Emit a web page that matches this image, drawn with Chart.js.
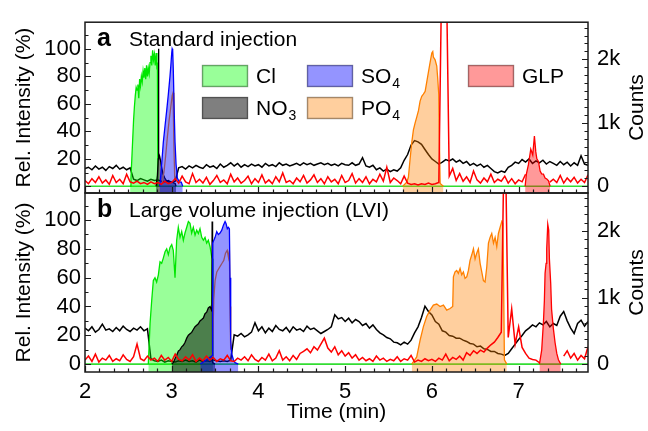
<!DOCTYPE html>
<html><head><meta charset="utf-8">
<script src="https://cdn.jsdelivr.net/npm/chart.js@4.4.1/dist/chart.umd.min.js"></script>
<style>
html,body{margin:0;padding:0;background:#fff;}
#wrap{position:relative;width:648px;height:431px;background:#fff;}
canvas{position:absolute;left:0;top:0;}
</style></head><body>
<div id="wrap"><canvas id="ca" width="648" height="431"></canvas><canvas id="cb" width="648" height="431"></canvas></div>
<script>
// ---------- DATA ----------
// sampling grid of the count traces (min)
const countTimes = Array.from({length: 146}, (_, i) => Math.round(200 + i * 4) / 100);

// panel a (standard injection) – counts
const blackCountsA = [
 280,300,260,320,270,300,250,310,280,330,
 270,300,260,290,110,90,120,100,80,110,
 90,100,80,70,90,60,80,290,310,270,
 320,290,330,300,280,340,300,320,280,350,
 300,330,370,320,360,300,340,310,350,320,
 340,300,360,320,340,310,370,330,350,320,
 340,360,330,370,340,360,330,350,370,340,
 360,330,350,320,360,340,330,370,330,350,
 450,320,300,330,260,290,240,270,230,260,
 240,290,410,500,650,720,700,660,580,500,
 430,390,350,380,420,400,430,380,410,360,
 390,330,360,320,350,300,330,280,230,210,
 240,220,300,330,380,360,420,380,430,360,
 400,370,410,350,390,360,330,390,340,380,
 320,370,330,480,350,330];
const redCountsA = [
 90,40,120,60,150,50,100,30,170,60,
 110,40,190,70,50,80,40,60,30,70,
 40,60,30,80,40,60,120,50,160,70,
 40,200,60,110,50,140,30,90,170,60,
 100,40,190,70,130,50,90,160,40,120,
 60,180,50,100,40,150,70,210,60,90,
 40,130,70,170,50,100,180,60,120,40,
 150,70,110,40,170,60,90,200,50,120,
 60,150,40,110,70,190,80,300,60,130,
 90,40,160,50,30,40,20,40,30,50,
 30,40,60,4000,4000,160,280,90,200,80,
 150,60,240,100,50,130,70,190,60,110,
 80,160,50,120,40,100,70,190,null,null,
 null,null,null,null,65,110,60,170,50,130,
 70,140,50,110,60,180];

// panel a – relative intensities (%)
const clTimesA = [2.52,2.53,2.54,2.55,2.56,2.57,2.58,2.59,2.60,2.61,2.62,2.63,2.64,2.65,2.66,2.67,2.68,2.69,2.70,2.71,2.72,2.73,2.74,2.75,2.76,2.77,2.78,2.79,2.80,2.81,2.82,2.83,2.835,2.84];
const clA = [0,6,20,34,48,58,66,72,70,74,64,78,73,80,76,84,79,86,78,88,80,86,82,90,95,88,99,92,96,88,97,85,90,0];
const no3TimesA = [2.82,2.835,2.845,2.848,2.851,2.86,2.87,2.88,2.89,2.90,2.92,2.94,2.97,3.0,3.04,3.05];
const no3A = [0,8,20,100,24,22,19,15,12,9,6,4,3,3,2,0];
const so4TimesA = [2.86,2.87,2.884,2.903,2.923,2.942,2.961,2.98,2.99,3.0,3.005,3.011,3.018,3.03,3.038,3.05,3.065,3.08,3.096,3.11,3.127];
const so4A = [0,5,16,32,44,55,67,80,88,97,100,99,85,51,32,16,6,4,3,3,0];
const po4InnerTimesA = [2.89,2.91,2.93,2.95,2.97,2.99,3.005,3.015,3.025,3.035];
const po4InnerA = [3,10,22,36,48,58,66,68,30,5];
const po4TimesA = [5.664,5.71,5.729,5.749,5.768,5.787,5.806,5.826,5.845,5.864,5.883,5.902,5.922,5.941,5.96,5.979,5.999,6.01,6.017,6.037,6.056,6.067,6.079,6.085,6.095,6.133];
const po4A = [0,3,6.5,20,32,41,46,50.5,55,62,65.5,67,69,76,83,90,97,98,94,92,87.5,78.5,67,39,2,0];
const glpTimesA = [7.075,7.09,7.113,7.14,7.163,7.182,7.198,7.21,7.229,7.248,7.265,7.286,7.305,7.325,7.345,7.363];
const glpA = [0,9,15.7,27,22.7,36.6,25,20,18,11,9,8.8,6,5.3,4,0];

// panel b (large volume injection) – counts
const blackCountsB = [
 540,500,560,480,520,600,510,530,490,550,
 500,570,520,490,540,510,560,500,530,80,
 50,40,60,30,50,40,30,50,40,60,
 40,50,30,60,40,50,40,60,50,40,
 50,40,60,440,420,460,410,440,480,620,
 500,560,470,540,490,580,520,500,550,480,
 560,510,530,490,570,520,540,500,460,490,
 520,560,740,680,700,640,690,620,670,640,
 580,610,540,590,520,470,440,400,380,330,
 320,290,330,300,360,470,560,700,870,790,
 740,640,600,500,480,430,420,390,390,360,
 340,310,300,260,270,230,220,190,190,160,
 150,130,160,230,300,370,430,500,540,590,
 560,620,590,640,560,610,580,720,790,650,
 540,460,610,660,570,640];
const redCountsB = [
 60,120,40,150,30,90,60,130,40,80,
 50,140,70,40,110,300,80,50,120,60,
 90,40,130,60,100,40,150,70,50,110,
 60,140,40,90,50,120,60,100,40,80,
 60,130,50,40,90,60,110,50,140,70,
 40,100,60,150,50,90,200,60,110,50,
 130,70,160,190,230,170,260,210,300,390,
 240,180,260,140,200,120,170,90,140,60,
 100,50,80,40,120,60,90,40,70,50,
 110,40,80,60,130,30,60,40,80,50,
 70,40,90,60,150,50,100,70,120,60,
 170,130,200,160,210,180,240,290,330,400,
 480,4000,400,830,300,560,250,160,90,70,
 60,20,null,null,null,null,null,null,120,200,
 90,160,60,130,80,260];

// panel b – relative intensities (%)
const clTimesB = [2.73,2.75,2.769,2.788,2.807,2.826,2.846,2.865,2.884,2.903,2.923,2.942,2.961,2.98,3.0,3.018,3.038,3.057,3.076,3.096,3.115,3.134,3.153,3.173,3.192,3.211,3.23,3.249,3.269,3.288,3.307,3.326,3.346,3.365,3.384,3.403,3.422,3.442,3.461,3.472,3.475];
const clB = [0,28,44,58,60,57,62,71,70,73.6,78,80,76,81,83,79,60,86,95,88,92,86,91,95,99,97.7,91,95,89.6,93,90.7,94,88,86,88,84,86,81.5,74.5,73,0];
const no3TimesB = [3.0,3.018,3.04,3.057,3.076,3.096,3.115,3.134,3.153,3.173,3.192,3.211,3.23,3.249,3.269,3.288,3.307,3.326,3.346,3.365,3.384,3.403,3.422,3.442,3.455,3.462,3.466,3.469,3.473,3.5];
const no3B = [0,1,4,6,9,10,12,13,15,18,20,21,22,24,26,27,28,30,31,32,35,36,39,40,38,37,99,99,1,0];
const so4TimesB = [3.33,3.40,3.45,3.468,3.472,3.5,3.519,3.538,3.557,3.577,3.596,3.615,3.626,3.641,3.653,3.665,3.672,3.68,3.692,3.711,3.73,3.768];
const so4B = [0,3,5,6,84,88,92,90,91,93,96.5,99,97.7,94,95,94,60,16.7,7,3,1,0];
const po4InnerTimesB = [3.47,3.485,3.5,3.52,3.54,3.56,3.58,3.60,3.62,3.64,3.655,3.665,3.672,3.68];
const po4InnerB = [5,45,58,64,66,68,70,72,77,79,74,79,40,10];
const po4TimesB = [5.768,5.825,5.864,5.902,5.94,5.979,6.017,6.056,6.094,6.133,6.171,6.21,6.24,6.248,6.267,6.286,6.305,6.325,6.344,6.363,6.382,6.402,6.421,6.44,6.459,6.479,6.498,6.517,6.536,6.556,6.575,6.594,6.613,6.633,6.652,6.671,6.69,6.71,6.729,6.748,6.767,6.787,6.806,6.817,6.825,6.836,6.864];
const po4B = [0,5,16.7,26,33,37.5,41,41.7,40,41,37.5,38.6,40,60.6,64,65,63,66.4,62,64,59.5,60.6,65,72,75.7,80,73,77,80,70,64,58,57,67.6,84,88,90.7,84,88,81.5,90.7,95,99,97.7,67.6,3,0];
const glpTimesB = [7.24,7.266,7.286,7.297,7.305,7.317,7.324,7.336,7.347,7.355,7.37,7.38,7.40,7.42,7.44,7.459,7.486];
const glpB = [0,9.7,29,44,63,70,80,97,93,73,56,38,25,15,7.4,3,0];

// zero baseline of the intensity traces
const baseTimes = [2, 7.8];
const baseVals = [0, 0];

// axis ticks
const xMajorTicks = [2, 3, 4, 5, 6, 7];
const xMinorPerMajor = 6;
const leftTicks = [0, 20, 40, 60, 80, 100];
const leftMinorStep = 10;
const rightTicks = [0, 1000, 2000];
const rightMinorStep = 125;
const countsPerPercent = 21.65;

// ---------- CHART ----------
const FONT = '"Liberation Sans", Arial, Helvetica, sans-serif';
const TICK_SIZE = 22;
const xy = (ts, vs) => ts.map((t, i) => ({x: t, y: vs[i]}));

const COLORS = {
  Cl: {line: '#00e600', fill: 'rgba(0,255,0,0.4)'},
  NO3: {line: '#000000', fill: 'rgba(0,0,0,0.5)'},
  SO4: {line: '#0000ff', fill: 'rgba(0,0,255,0.42)'},
  PO4: {line: '#ff8000', fill: 'rgba(255,128,0,0.38)'},
  GLP: {line: '#ff0000', fill: 'rgba(255,0,0,0.4)'}
};

function buildDatasets(p) {
  const common = {pointRadius: 0, borderWidth: 1.3, tension: 0, spanGaps: false};
  return [
    {...common, label: 'total counts', data: xy(countTimes, p.black), yAxisID: 'y2', borderColor: '#000', borderWidth: 1.5, fill: false, order: 10},
    {...common, label: 'baseline', data: xy(baseTimes, baseVals), yAxisID: 'y', borderColor: '#33dd33', borderWidth: 1.6, fill: false, order: 9},
    {...common, label: 'Cl', data: xy(p.clT, p.cl), yAxisID: 'y', borderColor: COLORS.Cl.line, backgroundColor: COLORS.Cl.fill, fill: 'start', order: 8},
    {...common, label: 'NO3', data: xy(p.no3T, p.no3), yAxisID: 'y', borderColor: COLORS.NO3.line, backgroundColor: COLORS.NO3.fill, fill: 'start', order: 7},
    {...common, label: 'PO4 (SO4 window)', data: xy(p.piT, p.pi), yAxisID: 'y', borderColor: '#ff9000', fill: false, order: 6.5},
    {...common, label: 'SO4', data: xy(p.so4T, p.so4), yAxisID: 'y', borderColor: COLORS.SO4.line, backgroundColor: COLORS.SO4.fill, fill: 'start', order: 6},
    {...common, label: 'PO4', data: xy(p.po4T, p.po4), yAxisID: 'y', borderColor: COLORS.PO4.line, backgroundColor: COLORS.PO4.fill, fill: 'start', order: 5},
    {...common, label: 'GLP', data: xy(p.glpT, p.glp), yAxisID: 'y', borderColor: COLORS.GLP.line, backgroundColor: COLORS.GLP.fill, fill: 'start', order: 4},
    {...common, label: 'GLP counts', data: xy(countTimes, p.red), yAxisID: 'y2', borderColor: '#ff0000', borderWidth: 1.5, fill: false, order: 3}
  ];
}

function drawName(ctx, name, x, y) {
  const m = name.match(/^([A-Za-z]+)(\d*)$/);
  ctx.font = '21px ' + FONT;
  ctx.fillText(m[1], x, y);
  if (m[2]) {
    const w = ctx.measureText(m[1]).width;
    ctx.font = '14px ' + FONT;
    ctx.fillText(m[2], x + w + 1, y + 5);
  }
}

const legendItems = [
  {name: 'Cl', col: 0, row: 0}, {name: 'NO3', col: 0, row: 1},
  {name: 'SO4', col: 1, row: 0}, {name: 'PO4', col: 1, row: 1},
  {name: 'GLP', col: 2, row: 0}
];
const legendCols = [202, 307, 468];
const legendRows = [65, 97];

const decor = {
  id: 'decor',
  afterDraw(chart, args, o) {
    const {ctx, chartArea: a} = chart;
    const {x, y, y2} = chart.scales;
    ctx.save();
    ctx.strokeStyle = '#1a1a1a';
    ctx.lineWidth = 1.2;
    ctx.beginPath();
    for (let i = 0; i < xMajorTicks.length; i++) {
      for (let k = 0; k < xMinorPerMajor; k++) {
        const v = xMajorTicks[i] + k / xMinorPerMajor;
        if (v > x.max + 1e-9) break;
        const px = Math.round(x.getPixelForValue(v)) + 0.5;
        ctx.moveTo(px, a.bottom);
        ctx.lineTo(px, a.bottom - (k === 0 ? 6 : 3.5));
      }
    }
    for (let v = 0; v <= y.max; v += leftMinorStep) {
      const py = Math.round(y.getPixelForValue(v)) + 0.5;
      const major = leftTicks.includes(v);
      ctx.moveTo(a.left, py); ctx.lineTo(a.left + (major ? 6 : 3.5), py);
    }
    for (let v = 0; v <= y2.max; v += rightMinorStep) {
      const py = Math.round(y2.getPixelForValue(v)) + 0.5;
      const major = rightTicks.includes(v);
      ctx.moveTo(a.right, py); ctx.lineTo(a.right - (major ? 6 : 3.5), py);
    }
    ctx.stroke();
    ctx.lineWidth = 1.5;
    ctx.strokeRect(a.left, a.top, a.right - a.left, a.bottom - a.top);

    ctx.fillStyle = '#000';
    ctx.textAlign = 'left';
    ctx.textBaseline = 'alphabetic';
    ctx.font = 'bold 25px ' + FONT;
    ctx.fillText(o.letter, 97, a.top + 23.5);
    ctx.font = '21px ' + FONT;
    ctx.fillText(o.title, 129, a.top + 23.5);

    ctx.save();
    ctx.translate(637, (a.top + a.bottom) / 2);
    ctx.rotate(-Math.PI / 2);
    ctx.textAlign = 'center';
    ctx.textBaseline = 'middle';
    ctx.font = '21px ' + FONT;
    ctx.fillText('Counts', 0, 0);
    ctx.restore();

    if (o.legend) {
      legendItems.forEach(it => {
        const bx = legendCols[it.col], by = legendRows[it.row];
        ctx.fillStyle = '#fff';
        ctx.fillRect(bx, by, 46, 22);
        ctx.fillStyle = COLORS[it.name].fill;
        ctx.fillRect(bx, by, 46, 22);
        ctx.strokeStyle = 'rgba(0,0,0,0.35)';
        ctx.lineWidth = 1.5;
        ctx.strokeRect(bx + 0.5, by + 0.5, 45, 21);
        ctx.fillStyle = '#000';
        ctx.textBaseline = 'alphabetic';
        drawName(ctx, it.name, bx + 54, by + 18);
      });
    }
    ctx.restore();
  }
};

function makeChart(id, p) {
  return new Chart(document.getElementById(id), {
    type: 'line',
    data: {datasets: buildDatasets(p)},
    plugins: [decor],
    options: {
      responsive: false,
      animation: false,
      devicePixelRatio: 1,
      events: [],
      layout: {padding: {top: p.padTop, bottom: p.padBottom, left: 0, right: 0}},
      plugins: {
        legend: {display: false},
        tooltip: {enabled: false},
        decor: {letter: p.letter, title: p.title, legend: p.legend}
      },
      scales: {
        x: {
          type: 'linear', min: 2, max: 7.8, display: p.showX,
          grid: {display: false, drawTicks: false}, border: {display: false},
          afterBuildTicks: s => { s.ticks = xMajorTicks.map(v => ({value: v})); },
          afterFit: s => { if (p.showX) s.height = 59; },
          ticks: {autoSkip: false, maxRotation: 0, padding: 7, color: '#000', font: {family: FONT, size: TICK_SIZE}},
          title: {display: true, text: 'Time (min)', color: '#000', font: {family: FONT, size: 21}, padding: {top: 0, bottom: 6}}
        },
        y: {
          position: 'left', min: p.yMin, max: p.yMax,
          grid: {display: false, drawTicks: false}, border: {display: false},
          afterBuildTicks: s => { s.ticks = leftTicks.map(v => ({value: v})); },
          afterFit: s => { s.width = 85; },
          ticks: {autoSkip: false, padding: 4, color: '#000', font: {family: FONT, size: TICK_SIZE}},
          title: {display: true, text: 'Rel. Intensity (%)', color: '#000', font: {family: FONT, size: 21}, padding: {top: 12, bottom: 0}}
        },
        y2: {
          position: 'right', min: p.yMin * countsPerPercent, max: p.yMax * countsPerPercent,
          grid: {display: false, drawTicks: false}, border: {display: false},
          afterBuildTicks: s => { s.ticks = rightTicks.map(v => ({value: v})); },
          afterFit: s => { s.width = 60; },
          ticks: {autoSkip: false, padding: 9, color: '#000', font: {family: FONT, size: TICK_SIZE},
            callback: v => v === 0 ? '0' : (v / 1000) + 'k'}
        }
      }
    }
  });
}

makeChart('ca', {
  letter: 'a', title: 'Standard injection', legend: true, showX: false,
  padTop: 14, padBottom: 238, yMin: -4.9, yMax: 119.4,
  black: blackCountsA, red: redCountsA,
  clT: clTimesA, cl: clA, no3T: no3TimesA, no3: no3A, so4T: so4TimesA, so4: so4A,
  piT: po4InnerTimesA, pi: po4InnerA, po4T: po4TimesA, po4: po4A, glpT: glpTimesA, glp: glpA
});
makeChart('cb', {
  letter: 'b', title: 'Large volume injection (LVI)', legend: false, showX: true,
  padTop: 193, padBottom: 0, yMin: -5.5, yMax: 118.8,
  black: blackCountsB, red: redCountsB,
  clT: clTimesB, cl: clB, no3T: no3TimesB, no3: no3B, so4T: so4TimesB, so4: so4B,
  piT: po4InnerTimesB, pi: po4InnerB, po4T: po4TimesB, po4: po4B, glpT: glpTimesB, glp: glpB
});
</script></body></html>
